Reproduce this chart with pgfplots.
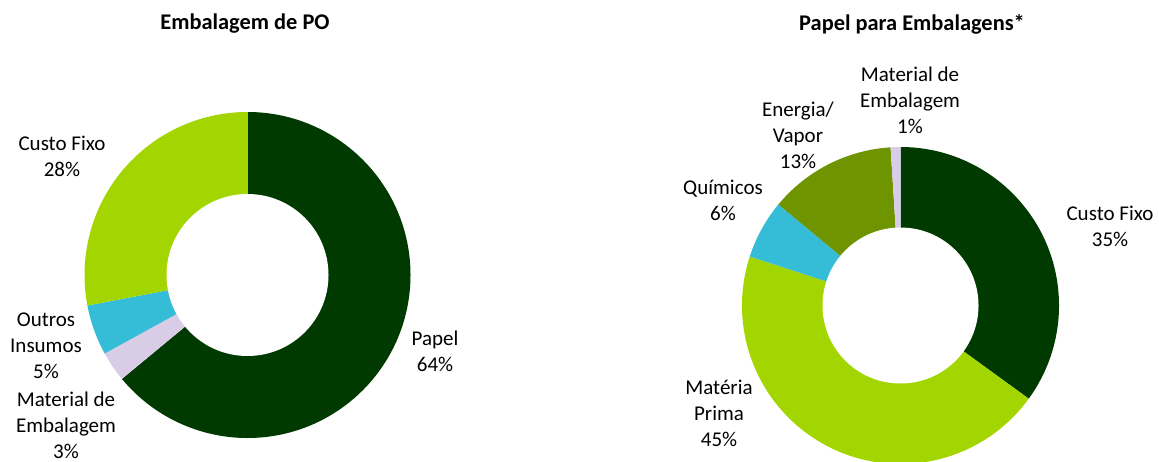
\documentclass[border=0pt]{standalone}
\usepackage{pgfplots}
\pgfplotsset{compat=1.18}
\usepackage{pgfplotstable}
\usepackage{fontspec}
\setmainfont{Carlito}
\definecolor{cDark}{HTML}{003A00}
\definecolor{cLight}{HTML}{A3D600}
\definecolor{cCyan}{HTML}{35BCD6}
\definecolor{cLav}{HTML}{D8CCE6}
\definecolor{cOlive}{HTML}{6E9400}

% Embalagem de PO (clockwise from 12 o'clock)
\pgfplotstableread{
value col
64 cDark
3 cLav
5 cCyan
28 cLight
}\tabPO
% Papel para Embalagens
\pgfplotstableread{
value col
35 cDark
45 cLight
6 cCyan
13 cOlive
1 cLav
}\tabPE

\newcommand\donut[5]{% table, cx, cy, Rout(px), Rin(px)
  \pgfplotstablegetrowsof{#1}%
  \pgfmathtruncatemacro\nrows{\pgfplotsretval-1}%
  \pgfmathsetlengthmacro\Rout{#4*0.5pt}%
  \pgfmathsetlengthmacro\Rin{#5*0.5pt}%
  \def\cum{0}%
  \pgfplotsforeachungrouped \i in {0,...,\nrows}{%
    \pgfplotstablegetelem{\i}{value}\of{#1}\let\segval\pgfplotsretval
    \pgfplotstablegetelem{\i}{col}\of{#1}\let\segcol\pgfplotsretval
    \pgfmathsetmacro\angA{90-3.6*\cum}%
    \pgfmathsetmacro\angB{90-3.6*(\cum+\segval)}%
    \pgfmathsetmacro\cum{\cum+\segval}%
    \edef\temp{\noexpand\fill[\segcol] (axis cs:#2,#3) -- ++(\angA:\Rout) arc[start angle=\angA, end angle=\angB, radius=\Rout] -- cycle;}%
    \temp
  }%
  \edef\temp{\noexpand\fill[white] (axis cs:#2,#3) ++(0:\Rin) arc[start angle=0, end angle=360, radius=\Rin] -- cycle;}%
  \temp
}

\begin{document}
\begin{tikzpicture}
\tikzset{every node/.append style={font=\fontsize{10.5}{13}\selectfont, align=center, inner sep=0pt}}
\begin{axis}[scale only axis, width=579.5pt, height=230.5pt,
  xmin=0, xmax=1159, ymin=0, ymax=461, hide axis, clip=false]
\donut{\tabPO}{247.5}{186}{163}{81}
\donut{\tabPE}{900.5}{155.5}{158.5}{78}
% titles
\node[font=\fontsize{11.2}{13}\selectfont\bfseries] at (axis cs:245,437) {Embalagem de PO};
\node[font=\fontsize{11.2}{13}\selectfont\bfseries] at (axis cs:912,437) {Papel para Embalagens*};
% left labels
\node at (axis cs:62,305) {Custo Fixo\\28\%};
\node at (axis cs:46,115) {Outros\\Insumos\\5\%};
\node at (axis cs:66,36) {Material de\\Embalagem\\3\%};
\node at (axis cs:435,110) {Papel\\64\%};
% right labels
\node at (axis cs:910,361) {Material de\\Embalagem\\1\%};
\node at (axis cs:798,326) {Energia/\\Vapor\\13\%};
\node at (axis cs:723,261) {Químicos\\6\%};
\node at (axis cs:1110,235) {Custo Fixo\\35\%};
\node at (axis cs:719,48) {Matéria\\Prima\\45\%};
\end{axis}
\pgfresetboundingbox
\useasboundingbox (0,0) rectangle (579.5pt,230.5pt);
\end{tikzpicture}
\end{document}
